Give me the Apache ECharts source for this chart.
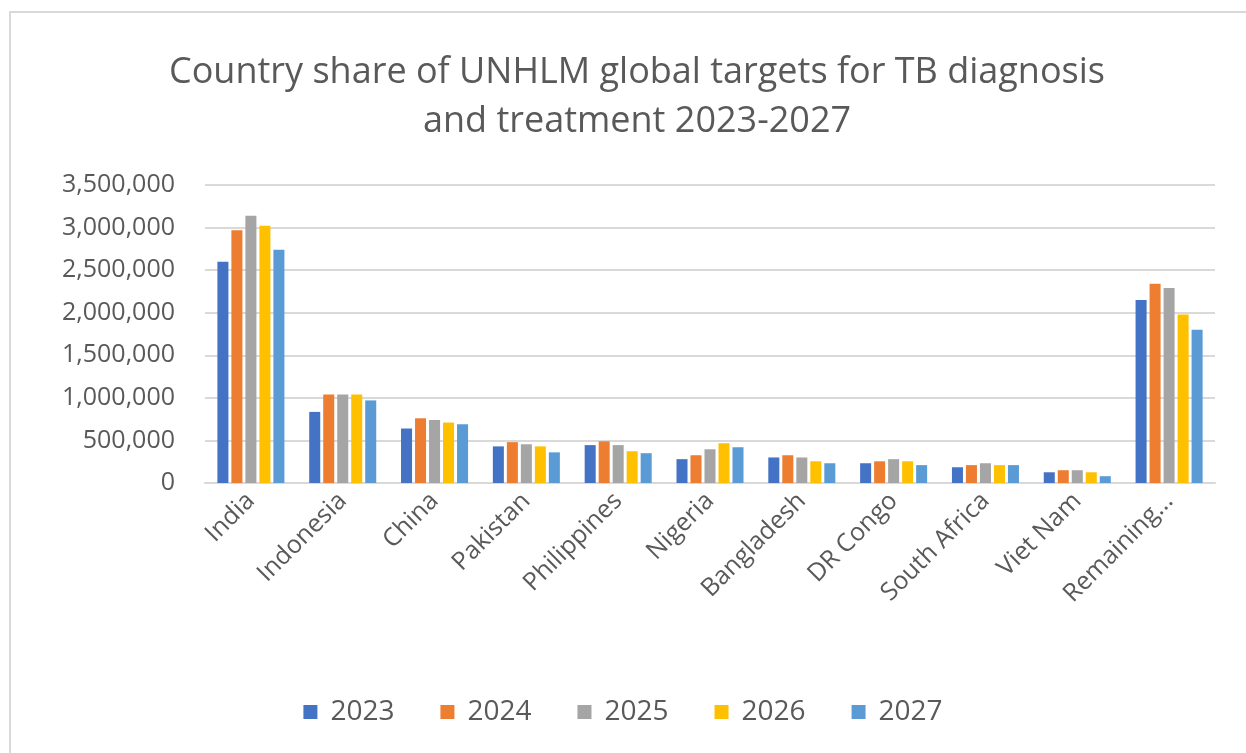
<!DOCTYPE html>
<html>
<head>
<meta charset="utf-8">
<script src="https://cdn.jsdelivr.net/npm/echarts@6/dist/echarts.min.js"></script>
<style>
  html, body { margin: 0; padding: 0; background: #fff; }
  #main { width: 1246px; height: 753px; }
</style>
</head>
<body>
<div id="main"></div>
<script>
// countries along the x axis
var countries = ['India', 'Indonesia', 'China', 'Pakistan', 'Philippines', 'Nigeria',
  'Bangladesh', 'DR Congo', 'South Africa', 'Viet Nam', 'Remaining...']
var years = ['2023', '2024', '2025', '2026', '2027']

// targets per year
var v2023 = [2600000, 835000, 640000, 430000, 445000, 280000, 300000, 232000, 185000, 126000, 2150000]
var v2024 = [2970000, 1040000, 760000, 480000, 490000, 326000, 326000, 255000, 210000, 150000, 2340000]
var v2025 = [3140000, 1040000, 740000, 455000, 445000, 396000, 300000, 280000, 232000, 150000, 2290000]
var v2026 = [3020000, 1040000, 710000, 430000, 373000, 467000, 255000, 255000, 210000, 126000, 1980000]
var v2027 = [2740000, 970000, 690000, 360000, 350000, 420000, 232000, 210000, 210000, 80000, 1800000]

var colors = ['#4472C4', '#ED7D31', '#A5A5A5', '#FFC000', '#5B9BD5']
var allVals = [v2023, v2024, v2025, v2026, v2027]
var fontFam = '"Open Sans", sans-serif'

var chart = echarts.init(document.getElementById('main'))

var series = []
for (var i = 0; i < years.length; i++) {
  series.push({
    name: years[i],
    type: 'bar',
    data: allVals[i],
    barGap: '27%',
    barCategoryGap: '27%',
    itemStyle: { color: colors[i] }
  })
}

var option = {
  animation: false,
  color: colors,
  graphic: [{
    type: 'rect',
    shape: { x: 10, y: 12, width: 1250, height: 760 },
    style: { fill: 'none', stroke: '#d9d9d9', lineWidth: 2 }
  }],
  title: {
    text: 'Country share of UNHLM global targets for TB diagnosis\nand treatment 2023-2027',
    left: 632,
    textAlign: 'center',
    top: 43,
    textStyle: {
      color: '#595959',
      fontFamily: fontFam,
      fontWeight: 'normal',
      fontSize: 36,
      lineHeight: 49
    }
  },
  legend: {
    bottom: 22,
    left: 'center',
    itemWidth: 14,
    itemHeight: 14,
    itemGap: 46,
    icon: 'rect',
    textStyle: { color: '#595959', fontFamily: fontFam, fontSize: 28, padding: [0, 0, 0, 8] }
  },
  grid: {
    left: 205,
    right: 31,
    top: 185,
    bottom: 270
  },
  xAxis: {
    type: 'category',
    data: countries,
    axisLine: { lineStyle: { color: '#d9d9d9', width: 2 } },
    axisTick: { show: false },
    axisLabel: {
      color: '#595959',
      fontFamily: fontFam,
      fontSize: 25,
      rotate: 45,
      interval: 0,
      margin: 14
    }
  },
  yAxis: {
    type: 'value',
    min: 0,
    max: 3500000,
    interval: 500000,
    axisLine: { show: false },
    axisTick: { show: false },
    splitLine: { lineStyle: { color: '#d9d9d9', width: 2 } },
    axisLabel: {
      color: '#595959',
      fontFamily: fontFam,
      fontSize: 25,
      margin: 30,
      formatter: function (v) { return v.toLocaleString('en-US') }
    }
  },
  series: series
}

chart.setOption(option)
</script>
</body>
</html>
